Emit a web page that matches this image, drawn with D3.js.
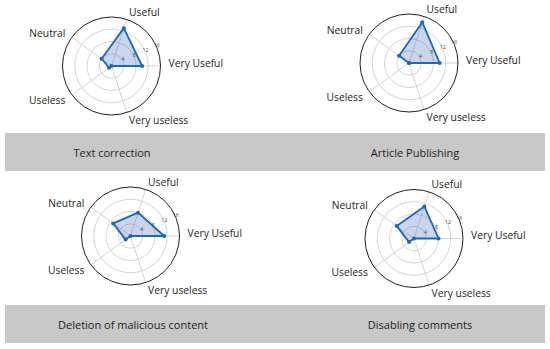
<!DOCTYPE html>
<html>
<head>
<meta charset="utf-8">
<script src="https://cdn.jsdelivr.net/npm/d3@7"></script>
<style>
  html, body { margin: 0; padding: 0; background: #fff; }
  svg { display: block; }
  text { font-family: "Open Sans", "Noto Sans", sans-serif; fill: #231f20; }
</style>
</head>
<body>
<svg id="chart" width="550" height="349"></svg>
<script>
// ---- data ----
const categories = ["Very Useful", "Useful", "Neutral", "Useless", "Very useless"];
const panelTitles = ["Text correction", "Article Publishing", "Deletion of malicious content", "Disabling comments"];
const textCorrection      = [10, 13, 4, 1, 0];
const articlePublishing   = [10, 14, 4, 0, 0];
const deletionMalicious   = [11, 8, 7, 2, 0];
const disablingComments   = [8, 11, 7, 2, 0];
const radialTicks = [4, 8, 12, 16];
const seriesList = [textCorrection, articlePublishing, deletionMalicious, disablingComments];

// ---- layout ----
const W = 550, H = 349;
const panelCenters = [[111.5, 66], [409, 63], [130.5, 236], [414, 238.5]];
const captionX = [112, 415, 133, 420];
const bands = [{y: 133, h: 38}, {y: 305, h: 38}];
const outerR = 49;
const labelR = 57;
const tickAngle = 22.5 * Math.PI / 180;

const svg = d3.select("#chart");
svg.append("rect").attr("width", W).attr("height", H).attr("fill", "#fff");

// caption bands
bands.forEach((b, i) => {
  svg.append("rect").attr("x", 5).attr("y", b.y).attr("width", 540).attr("height", b.h)
    .attr("fill", "#c8c8c8");
});

const r = d3.scaleLinear().domain([0, 16]).range([0, outerR]);
const angle = d3.scalePoint().domain(categories).range([0, 2 * Math.PI * 4 / 5]);

function px(cat, v) { const a = angle(cat); return r(v) * Math.cos(a); }
function py(cat, v) { const a = angle(cat); return -r(v) * Math.sin(a); }

seriesList.forEach((vals, i) => {
  const [cx, cy] = panelCenters[i];
  const g = svg.append("g").attr("transform", `translate(${cx},${cy})`);

  // grid circles
  g.selectAll("circle.grid").data(radialTicks.slice(0, -1)).enter().append("circle")
    .attr("class", "grid").attr("r", d => r(d))
    .attr("fill", "none").attr("stroke", "#cfcfcf").attr("stroke-width", 0.9);

  // spokes
  g.selectAll("line.spoke").data(categories).enter().append("line")
    .attr("x1", 0).attr("y1", 0)
    .attr("x2", d => px(d, 16)).attr("y2", d => py(d, 16))
    .attr("stroke", "#cfcfcf").attr("stroke-width", 0.9);

  // outer spine
  g.append("circle").attr("r", r(16)).attr("fill", "none")
    .attr("stroke", "#231f20").attr("stroke-width", 1);

  // data polygon
  const pts = categories.map((c, k) => [px(c, vals[k]), py(c, vals[k])]);
  g.append("path")
    .attr("d", d3.line().curve(d3.curveLinearClosed)(pts))
    .attr("fill", "rgb(70,100,190)").attr("fill-opacity", 0.28)
    .attr("stroke", "#1b68b8").attr("stroke-width", 1.8).attr("stroke-linejoin", "round");
  g.selectAll("circle.pt").data(pts).enter().append("circle")
    .attr("class", "pt").attr("cx", d => d[0]).attr("cy", d => d[1]).attr("r", 2)
    .attr("fill", "#1b68b8");

  // radial tick labels
  g.selectAll("text.tick").data(radialTicks).enter().append("text")
    .attr("x", d => r(d) * Math.cos(tickAngle))
    .attr("y", d => -r(d) * Math.sin(tickAngle) - 2)
    .attr("text-anchor", "middle").attr("dominant-baseline", "central")
    .style("font-size", "5px").style("fill", "#444")
    .text(d => d);

  // category labels
  g.selectAll("text.cat").data(categories).enter().append("text")
    .attr("x", d => labelR * Math.cos(angle(d)))
    .attr("y", d => -labelR * Math.sin(angle(d)) + (Math.abs(Math.sin(angle(d))) < 0.1 ? -3.5 : 0))
    .attr("text-anchor", d => { const c = Math.cos(angle(d)); return c > 0.1 ? "start" : (c < -0.1 ? "end" : "middle"); })
    .attr("dominant-baseline", "central")
    .style("font-size", "10.3px")
    .text(d => d);

  // caption
  const band = bands[Math.floor(i / 2)];
  svg.append("text").attr("x", captionX[i]).attr("y", band.y + band.h / 2)
    .attr("text-anchor", "middle").attr("dominant-baseline", "central")
    .style("font-size", "11px")
    .text(panelTitles[i]);
});
</script>
</body>
</html>
